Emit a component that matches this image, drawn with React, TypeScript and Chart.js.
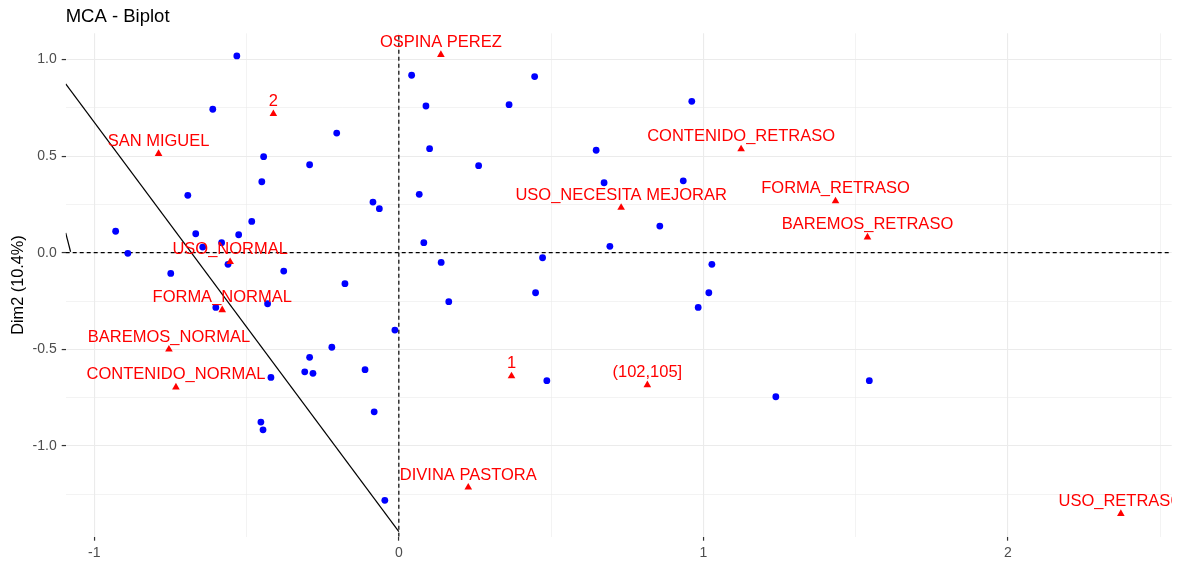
import React, { useEffect, useRef } from 'react';
import { Chart, registerables } from 'chart.js';

Chart.register(...registerables);

const chartTitle = 'MCA - Biplot';
const yAxisTitle = 'Dim2 (10.4%)';

const xRange = [-1.094, 2.538];
const yRange = [-1.469, 1.135];

const xTickLabels = ['-1', '0', '1', '2'];
const yTickLabels = ['-1.0', '-0.5', '0.0', '0.5', '1.0'];

// individuals (blue points)
const indX = [
  -0.532, -0.611, -0.204, -0.444, -0.293, -0.45, -0.693, -0.085, -0.064, -0.483,
  -0.93, -0.667, -0.526, -0.582, -0.644, -0.89, -0.561, -0.749, -0.378, -0.177,
  -0.601, -0.431, -0.013, -0.22, -0.293, -0.309, -0.282, -0.42, -0.111, -0.081,
  -0.453, -0.446, -0.046, 0.042, 0.446, 0.089, 0.362, 0.962, 0.101, 0.648,
  0.262, 0.674, 0.934, 0.067, 0.857, 0.082, 0.693, 0.139, 0.472, 1.028,
  0.164, 0.449, 0.983, 1.018, 0.486, 1.238, 1.545,
];
const indY = [
  1.018, 0.742, 0.619, 0.497, 0.455, 0.367, 0.297, 0.262, 0.228, 0.162,
  0.111, 0.098, 0.093, 0.052, 0.029, -0.003, -0.06, -0.107, -0.095, -0.16,
  -0.283, -0.264, -0.4, -0.489, -0.541, -0.616, -0.624, -0.645, -0.605, -0.823,
  -0.876, -0.916, -1.281, 0.918, 0.911, 0.759, 0.766, 0.783, 0.538, 0.53,
  0.45, 0.362, 0.372, 0.302, 0.138, 0.052, 0.033, -0.05, -0.026, -0.06,
  -0.253, -0.207, -0.283, -0.207, -0.662, -0.745, -0.662,
];

// categories (red triangles)
const catLabels = [
  'OSPINA PEREZ', '2', 'SAN MIGUEL', 'USO_NORMAL', 'FORMA_NORMAL', 'BAREMOS_NORMAL',
  'CONTENIDO_NORMAL', 'CONTENIDO_RETRASO', 'USO_NECESITA MEJORAR', 'FORMA_RETRASO',
  'BAREMOS_RETRASO', '1', '(102,105]', 'DIVINA PASTORA', 'USO_RETRASO',
];
const catX = [0.138, -0.412, -0.789, -0.554, -0.58, -0.755, -0.732, 1.124, 0.73, 1.434, 1.539, 0.37, 0.816, 0.228, 2.371];
const catY = [1.024, 0.718, 0.512, -0.047, -0.296, -0.5, -0.696, 0.536, 0.233, 0.267, 0.08, -0.638, -0.684, -1.214, -1.35];

// solid black line segments
const segAX = [-1.094, 0];
const segAY = [0.873, -1.443];
const segBX = [-1.094, -1.078];
const segBY = [0.103, 0.005];

const isMultiple = (v: number, step: number) => Math.abs(v / step - Math.round(v / step)) < 1e-6;

export default function App() {
  const ref = useRef<HTMLCanvasElement | null>(null);

  useEffect(() => {
    if (!ref.current) return;
    const labelPlugin = {
      id: 'labels',
      afterDatasetsDraw(chart: any) {
        const { ctx, chartArea, scales } = chart;
        ctx.save();
        ctx.beginPath();
        ctx.rect(chartArea.left, chartArea.top, chartArea.right - chartArea.left, chartArea.bottom - chartArea.top);
        ctx.clip();
        ctx.font = '16.5px "Liberation Sans", Arial, sans-serif';
        ctx.fillStyle = '#FF0000';
        ctx.textAlign = 'center';
        ctx.textBaseline = 'alphabetic';
        catLabels.forEach((l, i) => {
          const px = scales.x.getPixelForValue(catX[i]);
          const py = scales.y.getPixelForValue(catY[i]);
          ctx.fillText(l, px, py - 7.8);
        });
        ctx.restore();
      },
      afterDraw(chart: any) {
        const { ctx, chartArea } = chart;
        ctx.save();
        ctx.fillStyle = '#000000';
        ctx.font = '18.5px "Liberation Sans", Arial, sans-serif';
        ctx.textAlign = 'left';
        ctx.textBaseline = 'alphabetic';
        ctx.fillText(chartTitle, chartArea.left, 21.7);
        ctx.font = '16.3px "Liberation Sans", Arial, sans-serif';
        ctx.translate(19, (chartArea.top + chartArea.bottom) / 2);
        ctx.rotate(-Math.PI / 2);
        ctx.textAlign = 'center';
        ctx.textBaseline = 'middle';
        ctx.fillText(yAxisTitle, 0, 0);
        ctx.restore();
      },
    };

    const gridWidth = (step: number) => (c: any) => (c.tick && isMultiple(c.tick.value, step) ? 1.1 : 0.6);
    const tickCol = (step: number) => (c: any) => (c.tick && isMultiple(c.tick.value, step) ? '#333333' : 'rgba(0,0,0,0)');

    const chart = new Chart(ref.current, {
      type: 'scatter',
      data: {
        datasets: [
          {
            type: 'line',
            data: xRange.map((x) => ({ x, y: 0 })),
            borderColor: '#000000',
            borderWidth: 1.2,
            borderDash: [4, 3],
            pointRadius: 0,
            order: 5,
          },
          {
            type: 'line',
            data: yRange.map((y) => ({ x: 0, y })),
            borderColor: '#000000',
            borderWidth: 1.2,
            borderDash: [4, 3],
            pointRadius: 0,
            order: 5,
          },
          {
            type: 'line',
            data: segAX.map((x, i) => ({ x, y: segAY[i] })),
            borderColor: '#000000',
            borderWidth: 1.2,
            pointRadius: 0,
            order: 4,
          },
          {
            type: 'line',
            data: segBX.map((x, i) => ({ x, y: segBY[i] })),
            borderColor: '#000000',
            borderWidth: 1.2,
            pointRadius: 0,
            order: 4,
          },
          {
            data: indX.map((x, i) => ({ x, y: indY[i] })),
            backgroundColor: '#0000FF',
            borderWidth: 0,
            pointRadius: 3.4,
            order: 2,
          },
          {
            data: catX.map((x, i) => ({ x, y: catY[i] })),
            backgroundColor: '#FF0000',
            borderWidth: 0,
            pointStyle: 'triangle',
            pointRadius: 4.4,
            order: 1,
          },
        ],
      } as any,
      options: {
        animation: false,
        responsive: false,
        events: [],
        layout: { padding: { top: 33.3, right: 9.3, left: 0, bottom: 0 } },
        plugins: { legend: { display: false }, tooltip: { enabled: false }, title: { display: false } },
        scales: {
          x: {
            type: 'linear',
            min: xRange[0],
            max: xRange[1],
            border: { display: false },
            grid: { color: '#ebebeb', lineWidth: gridWidth(1), tickLength: 4, tickColor: tickCol(1), tickWidth: 1.2 },
            ticks: {
              stepSize: 0.5,
              includeBounds: false,
              autoSkip: false,
              maxRotation: 0,
              padding: 4,
              color: '#4d4d4d',
              font: { size: 14, family: '"Liberation Sans", Arial, sans-serif' },
              callback: (v: any) => {
                const n = Number(v);
                if (!isMultiple(n, 1)) return '';
                return xTickLabels[xTickLabels.indexOf(String(Math.round(n)))] ?? '';
              },
            },
            afterFit: (s: any) => {
              s.height = 26.3;
            },
          },
          y: {
            type: 'linear',
            min: yRange[0],
            max: yRange[1],
            border: { display: false },
            grid: { color: '#ebebeb', lineWidth: gridWidth(0.5), tickLength: 4, tickColor: tickCol(0.5), tickWidth: 1.2 },
            ticks: {
              stepSize: 0.25,
              includeBounds: false,
              autoSkip: false,
              padding: 5,
              color: '#4d4d4d',
              font: { size: 14, family: '"Liberation Sans", Arial, sans-serif' },
              callback: (v: any) => {
                const n = Number(v);
                if (!isMultiple(n, 0.5)) return '';
                const s = (Math.round(n * 2) / 2).toFixed(1);
                return yTickLabels.includes(s) ? s : '';
              },
            },
            afterFit: (s: any) => {
              s.width = 65.7;
            },
          },
        },
      } as any,
      plugins: [labelPlugin],
    });
    return () => chart.destroy();
  }, []);

  return (
    <div style={{ position: 'absolute', left: 0, top: 0, width: 1181, height: 563, background: '#ffffff' }}>
      <canvas ref={ref} width={1181} height={563} />
    </div>
  );
}
